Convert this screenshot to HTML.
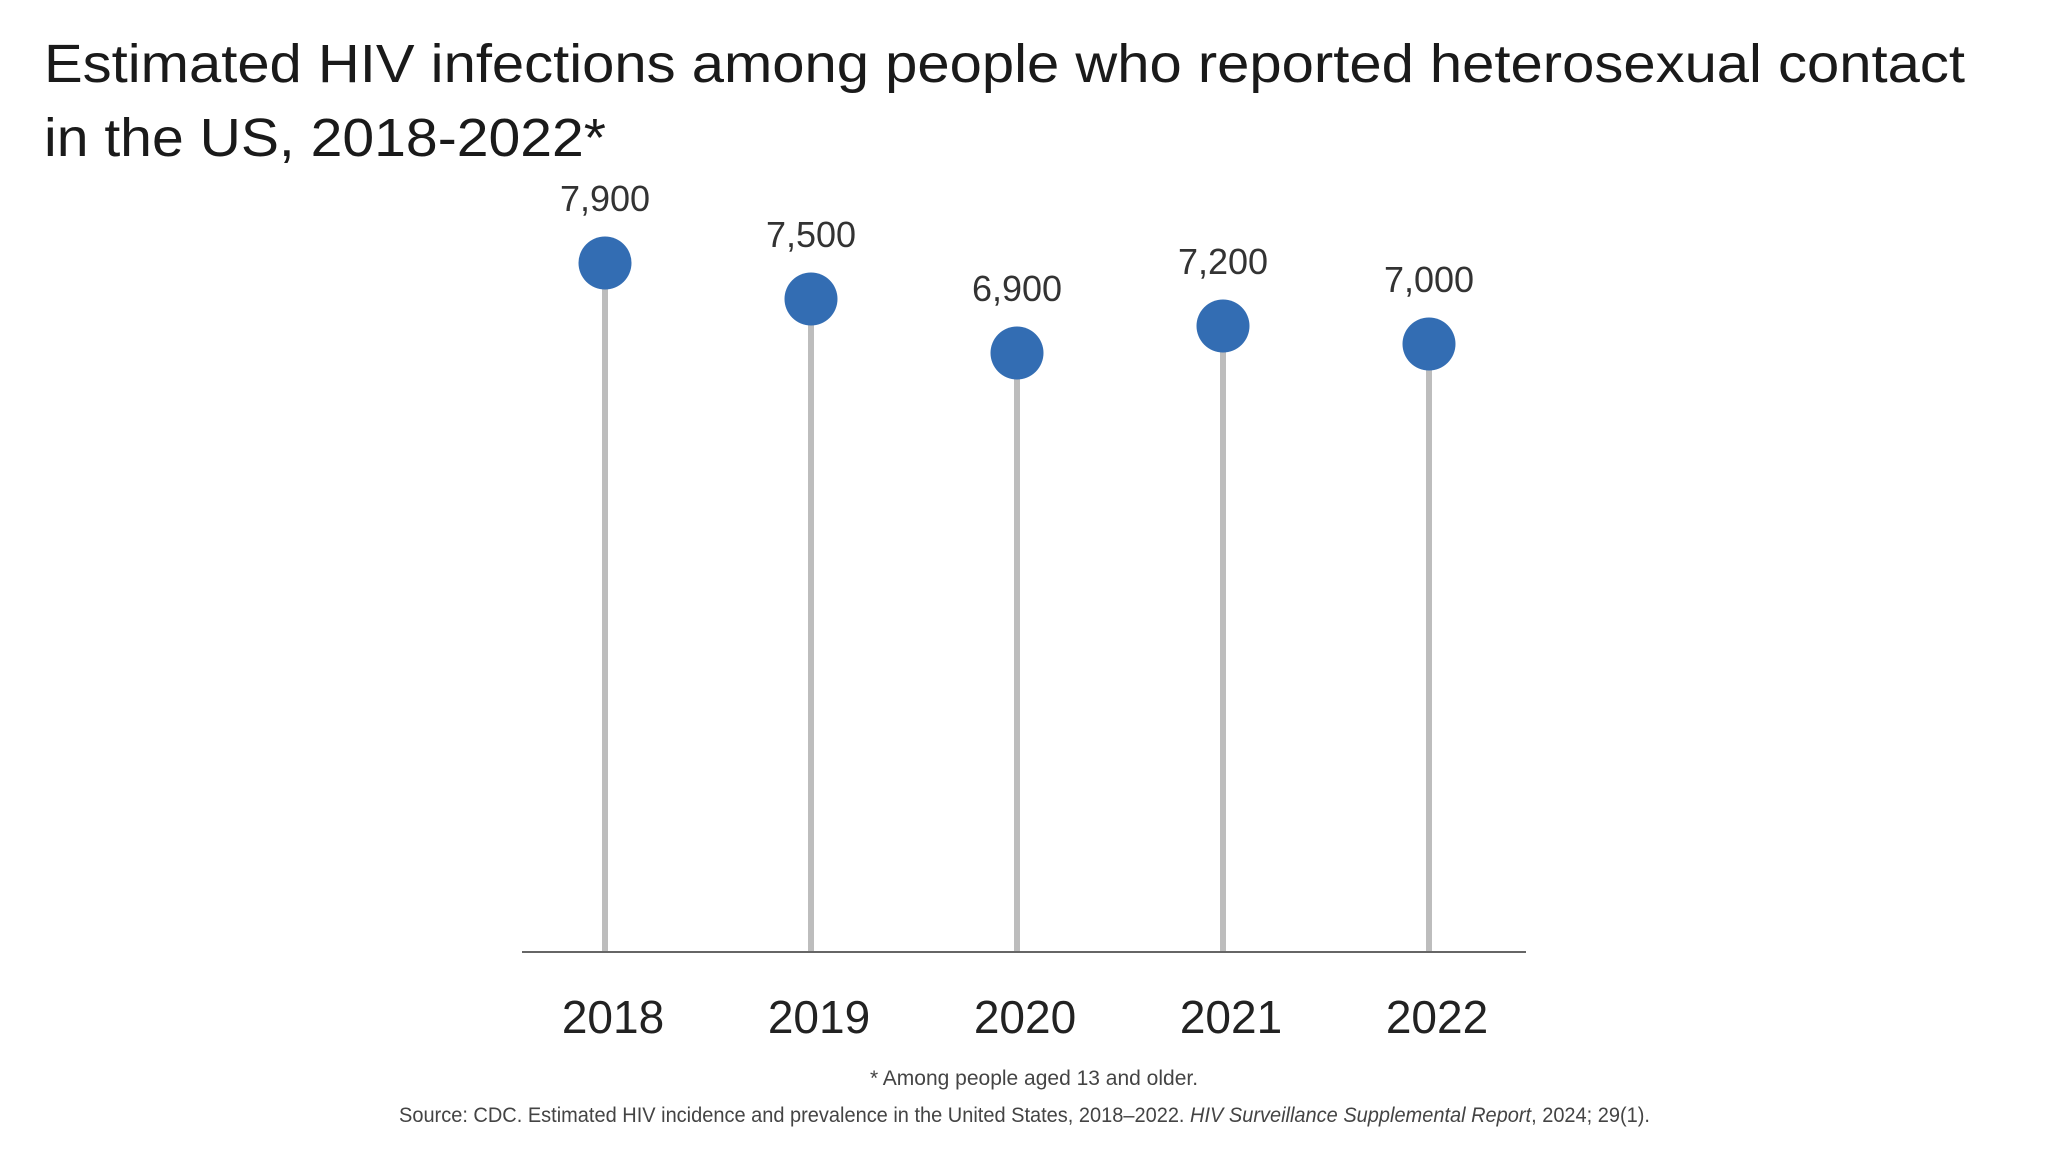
<!DOCTYPE html>
<html><head><meta charset="utf-8"><style>
html,body{margin:0;padding:0;background:#fff;}
svg{display:block;font-family:"Liberation Sans",sans-serif;}
</style></head><body>
<svg width="2048" height="1152" viewBox="0 0 2048 1152">
<text x="44" y="82" font-size="54" fill="#1a1a1a" textLength="1921" lengthAdjust="spacingAndGlyphs">Estimated HIV infections among people who reported heterosexual contact</text>
<text x="44" y="156" font-size="54" fill="#1a1a1a" textLength="562" lengthAdjust="spacingAndGlyphs">in the US, 2018-2022*</text>
<g id="plot"></g>
<line x1="522" y1="952" x2="1526" y2="952" stroke="#666" stroke-width="2"/>
<text x="1034" y="1085" font-size="21" fill="#444" text-anchor="middle">* Among people aged 13 and older.</text>
<text x="399" y="1122" font-size="21" fill="#444" textLength="1251" lengthAdjust="spacingAndGlyphs">Source: CDC. Estimated HIV incidence and prevalence in the United States, 2018–2022. <tspan font-style="italic">HIV Surveillance Supplemental Report</tspan>, 2024; 29(1).</text>
</svg>
<script>
const years = ["2018","2019","2020","2021","2022"];
const values = [7900, 7500, 6900, 7200, 7000];
const valueLabels = ["7,900","7,500","6,900","7,200","7,000"];
const NS = "http://www.w3.org/2000/svg";
const g = document.getElementById("plot");
function xPos(i){ return 605 + i * 206; }
function yPos(v){ return 952 - (v - 244) * 0.09; }
function mk(tag, attrs){ const e=document.createElementNS(NS,tag); for(const k in attrs) e.setAttribute(k,attrs[k]); g.appendChild(e); return e; }
years.forEach((yr,i)=>{
  const x=xPos(i), y=yPos(values[i]);
  const stem=mk("line",{x1:x,y1:y,x2:x,y2:952,stroke:"#bdbdbd","stroke-width":6});
  
  
  const dot=mk("circle",{cx:x,cy:y,r:26.5,fill:"#336db3"});
  
  
  const lab=mk("text",{x:x,y:y-52,"font-size":36,fill:"#333","text-anchor":"middle"});
  lab.textContent=valueLabels[i];
  
  
  const xl=mk("text",{x:x+8,y:1033,"font-size":46,fill:"#222","text-anchor":"middle"});
  xl.textContent=yr;
  
  
});
</script>
</body></html>
